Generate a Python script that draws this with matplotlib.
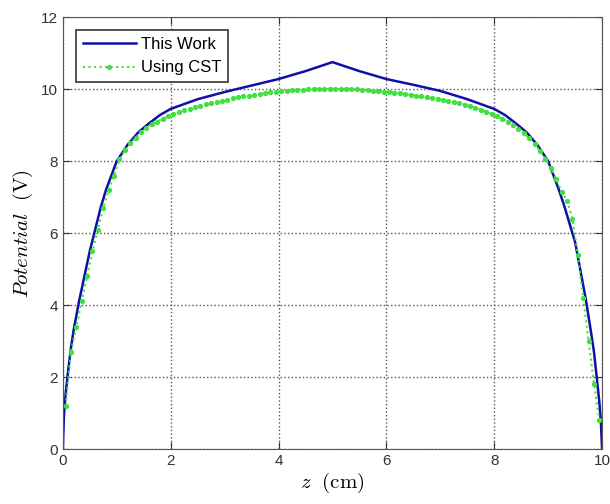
import matplotlib.pyplot as plt

plt.rcParams["font.family"] = ["Liberation Sans", "DejaVu Sans"]
plt.rcParams["mathtext.fontset"] = "cm"

# This Work
z_work = [0, 0.02, 0.05, 0.1, 0.15, 0.2, 0.3, 0.4, 0.5, 0.6, 0.7, 0.8, 0.9,
          1.0, 1.2, 1.4, 1.6, 1.8, 2.0, 2.5, 3.0, 3.5, 4.0, 4.5, 5.0,
          5.5, 6.0, 6.5, 7.0, 7.5, 8.0, 8.2, 8.4, 8.6, 8.8, 9.0, 9.1, 9.2,
          9.3, 9.4, 9.5, 9.6, 9.7, 9.8, 9.85, 9.9, 9.95, 9.98, 10.0]
v_work = [0, 0.9, 1.5, 2.2, 2.8, 3.3, 4.1, 4.8, 5.5, 6.1, 6.7, 7.2, 7.6,
          8.0, 8.45, 8.8, 9.05, 9.28, 9.45, 9.72, 9.92, 10.1, 10.28, 10.5, 10.75,
          10.5, 10.28, 10.12, 9.95, 9.72, 9.45, 9.28, 9.05, 8.8, 8.45, 8.0, 7.6, 7.2,
          6.75, 6.25, 5.75, 4.95, 4.15, 3.2, 2.7, 2.0, 1.3, 0.7, 0]

# Using CST
z_cst = [0.05, 0.15, 0.25, 0.35, 0.45, 0.55, 0.65, 0.75, 0.85, 0.95,
         1.05, 1.15, 1.25, 1.35, 1.45, 1.55, 1.65, 1.75, 1.85, 1.95,
         2.05, 2.15, 2.25, 2.35, 2.45, 2.55, 2.65, 2.75, 2.85, 2.95,
         3.05, 3.15, 3.25, 3.35, 3.45, 3.55, 3.65, 3.75, 3.85, 3.95,
         4.05, 4.15, 4.25, 4.35, 4.45, 4.55, 4.65, 4.75, 4.85, 4.95,
         5.05, 5.15, 5.25, 5.35, 5.45, 5.55, 5.65, 5.75, 5.85, 5.95,
         6.05, 6.15, 6.25, 6.35, 6.45, 6.55, 6.65, 6.75, 6.85, 6.95,
         7.05, 7.15, 7.25, 7.35, 7.45, 7.55, 7.65, 7.75, 7.85, 7.95,
         8.05, 8.15, 8.25, 8.35, 8.45, 8.55, 8.65, 8.75, 8.85, 8.95,
         9.05, 9.15, 9.25, 9.35, 9.45, 9.55, 9.65, 9.75, 9.85, 9.95]
v_cst = [1.2, 2.7, 3.4, 4.1, 4.8, 5.5, 6.1, 6.7, 7.2, 7.6,
         8.05, 8.3, 8.5, 8.65, 8.8, 8.92, 9.02, 9.1, 9.18, 9.25,
         9.3, 9.36, 9.41, 9.46, 9.5, 9.54, 9.58, 9.62, 9.65, 9.68,
         9.71, 9.74, 9.77, 9.8, 9.82, 9.85, 9.87, 9.89, 9.91, 9.93,
         9.95, 9.96, 9.97, 9.98, 9.98, 9.99, 9.99, 10.0, 10.0, 10.01,
         10.01, 10.0, 10.0, 9.99, 9.99, 9.98, 9.97, 9.96, 9.95, 9.93,
         9.92, 9.9, 9.88, 9.86, 9.84, 9.82, 9.8, 9.77, 9.75, 9.73,
         9.7, 9.67, 9.64, 9.61, 9.57, 9.53, 9.48, 9.43, 9.37, 9.31,
         9.25, 9.18, 9.1, 9.01, 8.9, 8.78, 8.63, 8.47, 8.28, 8.07,
         7.8, 7.5, 7.15, 6.9, 6.4, 5.4, 4.2, 3.0, 1.8, 0.8]

fig = plt.figure(figsize=(6.1, 5.04), dpi=100)
ax = fig.add_axes([0.103, 0.109, 0.884, 0.857])

ax.plot(z_work, v_work, color="#1010a8", lw=1.8, label="This Work")
ax.plot(z_cst, v_cst, color="#40e040", ls=":", lw=1.5, marker=".",
        markersize=5.5, label="Using CST")

ax.set_xlim(0, 10)
ax.set_ylim(0, 12)
ax.set_xticks(range(0, 11, 2))
ax.set_yticks(range(0, 13, 2))
ax.grid(True, ls=":", color="#555555", lw=1)
ax.tick_params(direction="in", top=True, right=True, labelsize=11,
               colors="#333333", length=5)
for s in ax.spines.values():
    s.set_color("#555555")

ax.set_xlabel(r"$z\ \ \mathrm{(cm)}$", fontsize=15, labelpad=2)
ax.set_ylabel(r"$Potential\ \ \mathrm{(V)}$", fontsize=15, labelpad=4)

leg = ax.legend(loc="upper left", fancybox=False, edgecolor="#333333",
                framealpha=1, fontsize=12, handlelength=3.2,
                borderaxespad=0.8, handletextpad=0.3)
leg.get_frame().set_linewidth(1.2)

fig.savefig("out.png", dpi=100)
